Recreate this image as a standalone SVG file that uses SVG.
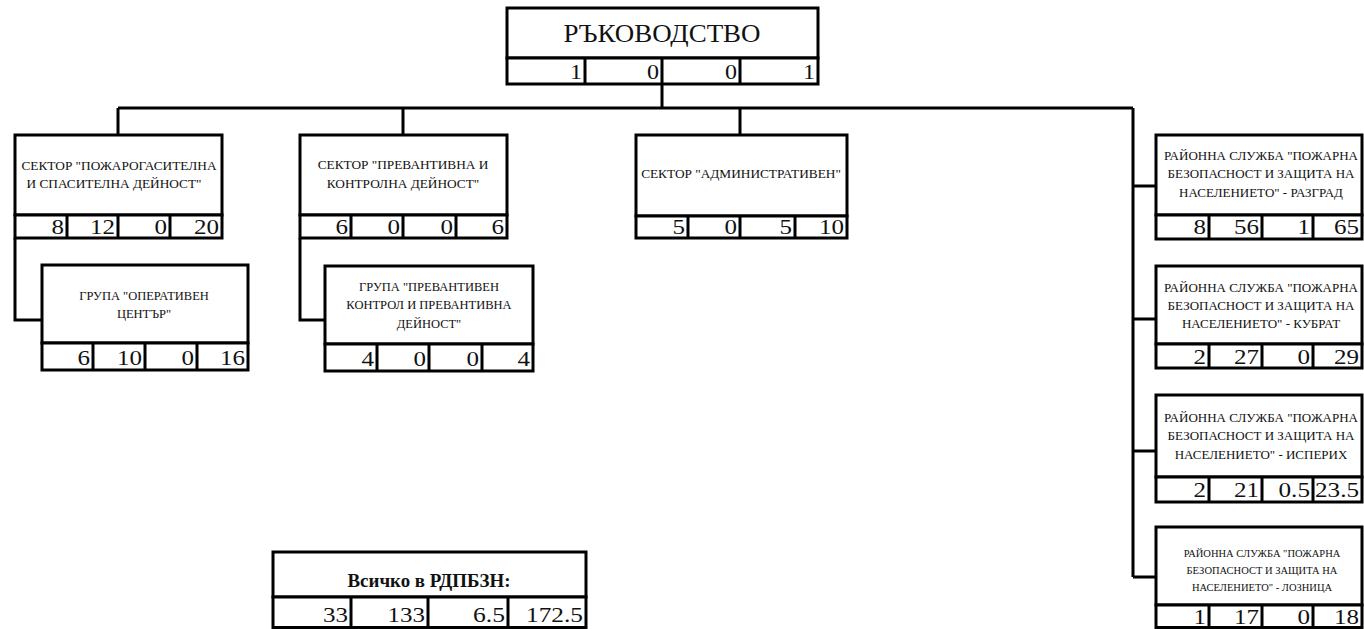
<svg xmlns="http://www.w3.org/2000/svg" width="1364" height="629" viewBox="0 0 1364 629">
<style>
.b{fill:#fff;stroke:#000;stroke-width:3}
.s{fill:none;stroke:#000;stroke-width:3}
.c{fill:none;stroke:#000;stroke-width:3;stroke-linejoin:miter}
.t{font-family:"Liberation Serif","Times New Roman",serif;text-anchor:middle;fill:#111}
.n{font-family:"Liberation Serif","Times New Roman",serif;text-anchor:end;font-size:21px;fill:#111}
</style>
<rect width="1364" height="629" fill="#fff"/>
<g id="connectors">
<path class="c" d="M662 84V108M118 108H1133M118 108V135M403 108V135M740 108V135M1133 108V577M1133 186H1156M1133 319H1156M1133 451H1156M1133 577H1156M15 238V320H42M300 238V320H325"/>
</g>
<g id="n-top">
<rect class="b" x="507" y="8" width="311" height="50"/>
<rect class="b" x="507" y="58" width="311" height="26"/>
<path class="s" d="M585 58V84M662 58V84M740 58V84"/>
<text class="t" x="662" y="42" font-size="26" textLength="197" lengthAdjust="spacingAndGlyphs">РЪКОВОДСТВО</text>
<text class="n" x="582" y="79" font-size="22" textLength="12" lengthAdjust="spacingAndGlyphs">1</text>
<text class="n" x="659" y="79" font-size="22" textLength="12" lengthAdjust="spacingAndGlyphs">0</text>
<text class="n" x="737" y="79" font-size="22" textLength="12" lengthAdjust="spacingAndGlyphs">0</text>
<text class="n" x="815" y="79" font-size="22" textLength="12" lengthAdjust="spacingAndGlyphs">1</text>
</g>
<g id="n-sector1">
<rect class="b" x="15" y="135" width="207" height="80"/>
<rect class="b" x="15" y="215" width="207" height="23"/>
<path class="s" d="M67 215V238M118 215V238M170 215V238"/>
<text class="t" font-size="13.3"><tspan x="119" y="169.5">СЕКТОР "ПОЖАРОГАСИТЕЛНА</tspan><tspan x="114" y="187.5">И СПАСИТЕЛНА ДЕЙНОСТ"</tspan></text>
<text class="n" x="64" y="234" textLength="12.5" lengthAdjust="spacingAndGlyphs">8</text>
<text class="n" x="115" y="234" textLength="25" lengthAdjust="spacingAndGlyphs">12</text>
<text class="n" x="167" y="234" textLength="12.5" lengthAdjust="spacingAndGlyphs">0</text>
<text class="n" x="219" y="234" textLength="25" lengthAdjust="spacingAndGlyphs">20</text>
</g>
<g id="n-group1">
<rect class="b" x="42" y="265" width="206" height="78"/>
<rect class="b" x="42" y="343" width="206" height="27"/>
<path class="s" d="M93 343V370M145 343V370M197 343V370"/>
<text class="t" font-size="12.5"><tspan x="144" y="299.5">ГРУПА "ОПЕРАТИВЕН</tspan><tspan x="144" y="317.5">ЦЕНТЪР"</tspan></text>
<text class="n" x="90" y="365" textLength="12.5" lengthAdjust="spacingAndGlyphs">6</text>
<text class="n" x="142" y="365" textLength="25" lengthAdjust="spacingAndGlyphs">10</text>
<text class="n" x="194" y="365" textLength="12.5" lengthAdjust="spacingAndGlyphs">0</text>
<text class="n" x="245" y="365" textLength="25" lengthAdjust="spacingAndGlyphs">16</text>
</g>
<g id="n-sector2">
<rect class="b" x="300" y="135" width="207" height="80"/>
<rect class="b" x="300" y="215" width="207" height="23"/>
<path class="s" d="M351 215V238M403 215V238M456 215V238"/>
<text class="t" font-size="13.3"><tspan x="403" y="168.5">СЕКТОР "ПРЕВАНТИВНА И</tspan><tspan x="403" y="187.5">КОНТРОЛНА ДЕЙНОСТ"</tspan></text>
<text class="n" x="348" y="234" textLength="12.5" lengthAdjust="spacingAndGlyphs">6</text>
<text class="n" x="400" y="234" textLength="12.5" lengthAdjust="spacingAndGlyphs">0</text>
<text class="n" x="453" y="234" textLength="12.5" lengthAdjust="spacingAndGlyphs">0</text>
<text class="n" x="504" y="234" textLength="12.5" lengthAdjust="spacingAndGlyphs">6</text>
</g>
<g id="n-group2">
<rect class="b" x="325" y="266" width="208" height="78"/>
<rect class="b" x="325" y="344" width="208" height="27"/>
<path class="s" d="M377 344V371M429 344V371M482 344V371"/>
<text class="t" font-size="12.5"><tspan x="429" y="290.5">ГРУПА "ПРЕВАНТИВЕН</tspan><tspan x="429" y="308.5">КОНТРОЛ И ПРЕВАНТИВНА</tspan><tspan x="429" y="327.5">ДЕЙНОСТ"</tspan></text>
<text class="n" x="374" y="366" textLength="12.5" lengthAdjust="spacingAndGlyphs">4</text>
<text class="n" x="426" y="366" textLength="12.5" lengthAdjust="spacingAndGlyphs">0</text>
<text class="n" x="479" y="366" textLength="12.5" lengthAdjust="spacingAndGlyphs">0</text>
<text class="n" x="530" y="366" textLength="12.5" lengthAdjust="spacingAndGlyphs">4</text>
</g>
<g id="n-sector3">
<rect class="b" x="636" y="135" width="211" height="81"/>
<rect class="b" x="636" y="216" width="211" height="22"/>
<path class="s" d="M688 216V238M740 216V238M795 216V238"/>
<text class="t" x="741" y="177.5" font-size="13.3">СЕКТОР "АДМИНИСТРАТИВЕН"</text>
<text class="n" x="685" y="234" textLength="12.5" lengthAdjust="spacingAndGlyphs">5</text>
<text class="n" x="737" y="234" textLength="12.5" lengthAdjust="spacingAndGlyphs">0</text>
<text class="n" x="792" y="234" textLength="12.5" lengthAdjust="spacingAndGlyphs">5</text>
<text class="n" x="844" y="234" textLength="25" lengthAdjust="spacingAndGlyphs">10</text>
</g>
<g id="n-razgrad">
<rect class="b" x="1156" y="135" width="206" height="80"/>
<rect class="b" x="1156" y="215" width="206" height="24"/>
<path class="s" d="M1209 215V239M1262 215V239M1313 215V239"/>
<text class="t" font-size="13"><tspan x="1261" y="159.5">РАЙОННА СЛУЖБА "ПОЖАРНА</tspan><tspan x="1261" y="177.5">БЕЗОПАСНОСТ И ЗАЩИТА НА</tspan><tspan x="1261" y="196.5">НАСЕЛЕНИЕТО" - РАЗГРАД</tspan></text>
<text class="n" x="1206" y="234" textLength="12.5" lengthAdjust="spacingAndGlyphs">8</text>
<text class="n" x="1259" y="234" textLength="25" lengthAdjust="spacingAndGlyphs">56</text>
<text class="n" x="1310" y="234" textLength="12.5" lengthAdjust="spacingAndGlyphs">1</text>
<text class="n" x="1359" y="234" textLength="25" lengthAdjust="spacingAndGlyphs">65</text>
</g>
<g id="n-kubrat">
<rect class="b" x="1156" y="266" width="206" height="78"/>
<rect class="b" x="1156" y="344" width="206" height="24"/>
<path class="s" d="M1209 344V368M1262 344V368M1313 344V368"/>
<text class="t" font-size="13"><tspan x="1261" y="291.5">РАЙОННА СЛУЖБА "ПОЖАРНА</tspan><tspan x="1261" y="309.5">БЕЗОПАСНОСТ И ЗАЩИТА НА</tspan><tspan x="1261" y="327.5">НАСЕЛЕНИЕТО" - КУБРАТ</tspan></text>
<text class="n" x="1206" y="364" textLength="12.5" lengthAdjust="spacingAndGlyphs">2</text>
<text class="n" x="1259" y="364" textLength="25" lengthAdjust="spacingAndGlyphs">27</text>
<text class="n" x="1310" y="364" textLength="12.5" lengthAdjust="spacingAndGlyphs">0</text>
<text class="n" x="1359" y="364" textLength="25" lengthAdjust="spacingAndGlyphs">29</text>
</g>
<g id="n-isperih">
<rect class="b" x="1156" y="395" width="206" height="82"/>
<rect class="b" x="1156" y="477" width="206" height="25"/>
<path class="s" d="M1209 477V502M1262 477V502M1313 477V502"/>
<text class="t" font-size="13"><tspan x="1261" y="421.5">РАЙОННА СЛУЖБА "ПОЖАРНА</tspan><tspan x="1261" y="439.5">БЕЗОПАСНОСТ И ЗАЩИТА НА</tspan><tspan x="1261" y="458.5">НАСЕЛЕНИЕТО" - ИСПЕРИХ</tspan></text>
<text class="n" x="1206" y="497" textLength="12.5" lengthAdjust="spacingAndGlyphs">2</text>
<text class="n" x="1259" y="497" textLength="25" lengthAdjust="spacingAndGlyphs">21</text>
<text class="n" x="1310" y="497" textLength="31.5" lengthAdjust="spacingAndGlyphs">0.5</text>
<text class="n" x="1359" y="497" textLength="44" lengthAdjust="spacingAndGlyphs">23.5</text>
</g>
<g id="n-loznica">
<rect class="b" x="1156" y="527" width="206" height="78"/>
<rect class="b" x="1156" y="605" width="206" height="22.5"/>
<path class="s" d="M1209 605V628M1262 605V628M1313 605V628"/>
<text class="t" font-size="10.5"><tspan x="1262" y="556.5">РАЙОННА СЛУЖБА "ПОЖАРНА</tspan><tspan x="1262" y="573.5">БЕЗОПАСНОСТ И ЗАЩИТА НА</tspan><tspan x="1262" y="590.5">НАСЕЛЕНИЕТО" - ЛОЗНИЦА</tspan></text>
<text class="n" x="1206" y="624" textLength="12.5" lengthAdjust="spacingAndGlyphs">1</text>
<text class="n" x="1259" y="624" textLength="25" lengthAdjust="spacingAndGlyphs">17</text>
<text class="n" x="1310" y="624" textLength="12.5" lengthAdjust="spacingAndGlyphs">0</text>
<text class="n" x="1359" y="624" textLength="25" lengthAdjust="spacingAndGlyphs">18</text>
</g>
<g id="n-total">
<rect class="b" x="273" y="552" width="313" height="45"/>
<rect class="b" x="273" y="597" width="313" height="30.5"/>
<path class="s" d="M351 597V628M428 597V628M508 597V628"/>
<text class="t" x="429" y="587" font-size="18" font-weight="bold" textLength="163" lengthAdjust="spacingAndGlyphs">Всичко в РДПБЗН:</text>
<text class="n" x="348" y="622" textLength="25" lengthAdjust="spacingAndGlyphs">33</text>
<text class="n" x="425" y="622" textLength="37.5" lengthAdjust="spacingAndGlyphs">133</text>
<text class="n" x="505" y="622" textLength="32" lengthAdjust="spacingAndGlyphs">6.5</text>
<text class="n" x="583" y="622" textLength="57" lengthAdjust="spacingAndGlyphs">172.5</text>
</g>
</svg>
